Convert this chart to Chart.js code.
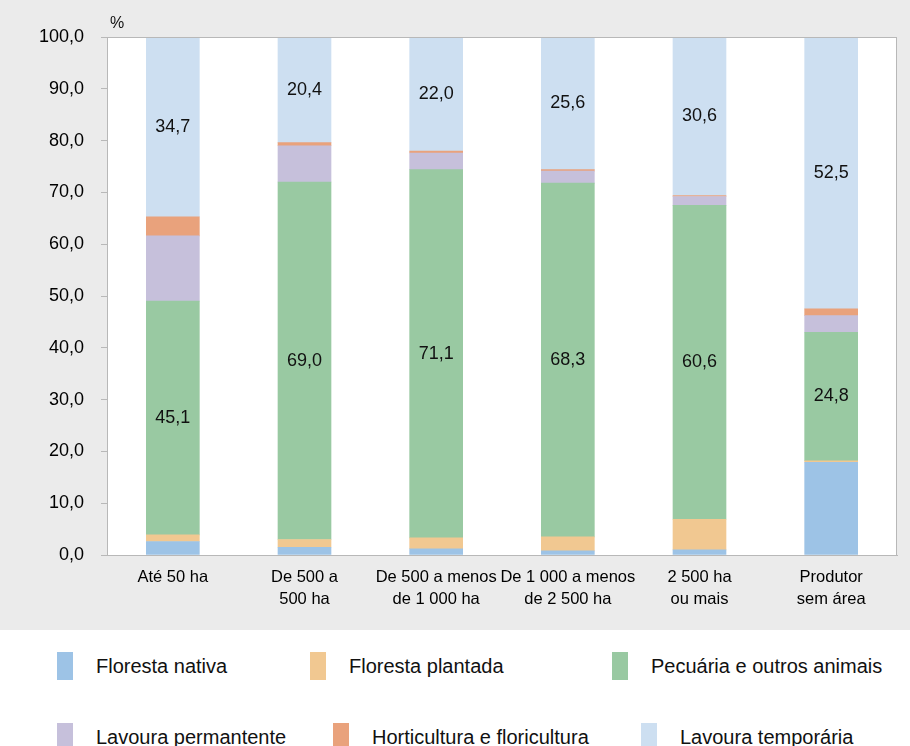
<!DOCTYPE html>
<html>
<head>
<meta charset="utf-8">
<script src="https://cdn.jsdelivr.net/npm/chart.js@4.4.1/dist/chart.umd.min.js"></script>
<style>
body { margin: 0; width: 910px; height: 746px; overflow: hidden; background: #fff; }
#top { position: absolute; left: 0; top: 0; width: 910px; height: 630px; background: #ebebeb; }
#legend { position: absolute; left: 0; top: 630px; width: 910px; height: 116px; }
.item { position: absolute; display: flex; align-items: center; font-family: "Liberation Sans", Arial, sans-serif; font-size: 20px; color: #111; white-space: nowrap; }
.box { width: 16px; height: 28px; margin-right: 23px; }
</style>
</head>
<body>
<div id="top"><canvas id="chart" width="910" height="630"></canvas></div>
<div id="legend"></div>
<script>
// categorias (eixo x)
const categories = [
    ["Até 50 ha"],
    ["De 500 a", "500 ha"],
    ["De 500 a menos", "de 1 000 ha"],
    ["De 1 000 a menos", "de 2 500 ha"],
    ["2 500 ha", "ou mais"],
    ["Produtor", "sem área"]
];

// valores em %
const florestaNativa    = [2.6, 1.5, 1.2, 0.8, 1.0, 17.9];
const florestaPlantada  = [1.3, 1.5, 2.1, 2.7, 5.9, 0.3];
const pecuaria          = [45.1, 69.0, 71.1, 68.3, 60.6, 24.8];
const lavouraPermanente = [12.6, 7.0, 3.2, 2.3, 1.7, 3.2];
const horticultura      = [3.7, 0.6, 0.4, 0.3, 0.2, 1.3];
const lavouraTemporaria = [34.7, 20.4, 22.0, 25.6, 30.6, 52.5];

const seriesNames = ["Floresta nativa", "Floresta plantada", "Pecuária e outros animais",
                     "Lavoura permantente", "Horticultura e floricultura", "Lavoura temporária"];
const seriesData = [florestaNativa, florestaPlantada, pecuaria, lavouraPermanente, horticultura, lavouraTemporaria];
const seriesColors = ['#9dc3e6', '#f1c891', '#99c9a2', '#c6c0db', '#e9a27c', '#cddff1'];
const labelled = [false, false, true, false, false, true]; // only these show values

// legend placement (left px, top px inside legend block)
const legendLeft = [57, 310, 612, 57, 333, 641];
const legendTop = [22, 22, 22, 93, 93, 93];

const fmt = v => v.toFixed(1).replace('.', ',');

const bgPlugin = {
    id: 'bg',
    beforeDraw(chart) {
        const a = chart.chartArea, c = chart.ctx;
        c.save();
        c.fillStyle = '#fff';
        c.fillRect(a.left, a.top, a.right - a.left, a.bottom - a.top);
        c.restore();
    },
    afterDatasetsDraw(chart) {
        const a = chart.chartArea, c = chart.ctx;
        c.save();
        c.strokeStyle = '#b8b8b8';
        c.lineWidth = 1;
        c.strokeRect(a.left + 0.5, a.top + 0.5, a.right - a.left - 1, a.bottom - a.top);
        // value labels
        c.font = '18px "Liberation Sans", Arial, sans-serif';
        c.fillStyle = '#111';
        c.textAlign = 'center';
        c.textBaseline = 'middle';
        chart.data.datasets.forEach((ds, i) => {
            if (!labelled[i]) return;
            chart.getDatasetMeta(i).data.forEach((el, j) => {
                const p = el.getCenterPoint();
                c.fillText(fmt(ds.data[j]), p.x, p.y);
            });
        });
        // unit
        c.textAlign = 'left';
        c.textBaseline = 'alphabetic';
        c.font = '16px "Liberation Sans", Arial, sans-serif';
        c.fillText('%', a.left + 3, a.top - 9);
        c.restore();
    }
};

let chr = new Chart(document.getElementById('chart'), {
    type: 'bar',
    data: {
        labels: categories,
        datasets: seriesNames.map((name, i) => ({
            label: name,
            data: seriesData[i],
            backgroundColor: seriesColors[i],
            borderWidth: 0,
            barThickness: 53
        }))
    },
    options: {
        responsive: false,
        animation: false,
        layout: { padding: { top: 37, right: 13, left: 0, bottom: 0 } },
        plugins: { legend: { display: false }, tooltip: { enabled: false } },
        scales: {
            x: {
                stacked: true,
                grid: { display: false },
                border: { color: '#b8b8b8' },
                ticks: { color: '#000', font: { size: 16.5, family: '"Liberation Sans", Arial, sans-serif', lineHeight: 1.3 }, padding: 4, maxRotation: 0, autoSkip: false },
                afterFit(s) { s.height = 75; }
            },
            y: {
                stacked: true,
                min: 0,
                max: 100,
                grid: { drawOnChartArea: false, tickLength: 6, color: '#b8b8b8' },
                border: { color: '#b8b8b8' },
                ticks: { stepSize: 10, color: '#000', padding: 17, font: { size: 18, family: '"Liberation Sans", Arial, sans-serif' }, callback: v => fmt(v) },
                afterFit(s) { s.width = 107; }
            }
        }
    },
    plugins: [bgPlugin]
});

// html legend
const leg = document.getElementById('legend');
seriesNames.forEach((name, i) => {
    const d = document.createElement('div');
    d.className = 'item';
    d.style.left = legendLeft[i] + 'px';
    d.style.top = legendTop[i] + 'px';
    d.innerHTML = '<span class="box" style="background:' + seriesColors[i] + '"></span><span>' + name + '</span>';
    leg.appendChild(d);
});
</script>
</body>
</html>
